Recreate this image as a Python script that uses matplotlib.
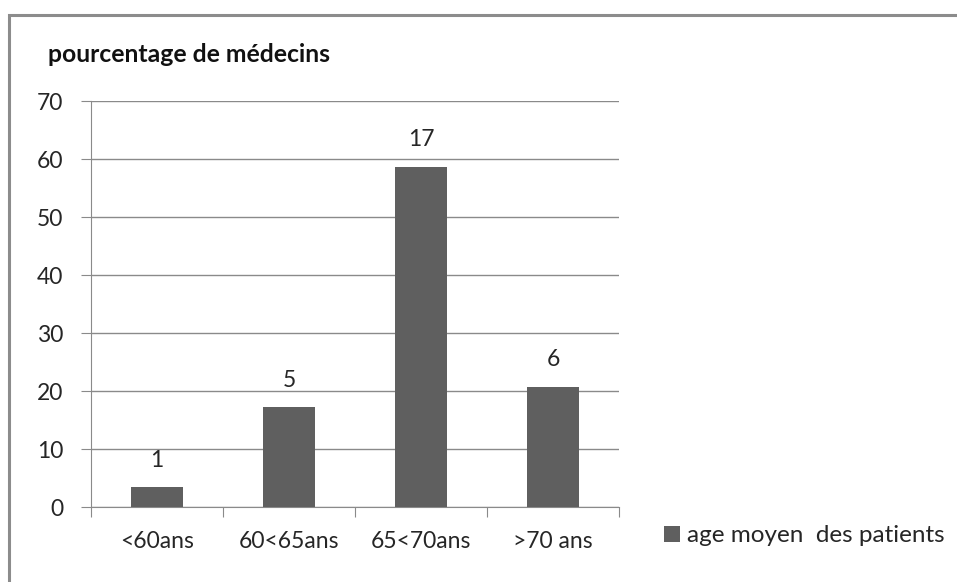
import matplotlib.pyplot as plt
from matplotlib.patches import Rectangle

plt.rcParams['font.family'] = ['Lato', 'DejaVu Sans']

categories = ['<60ans', '60<65ans', '65<70ans', '>70 ans']
counts = [1, 5, 17, 6]
percent = [3.4, 17.2, 58.6, 20.7]

bar_color = '#5f5f5f'
grid_color = '#8a8a8a'
fs = 16.5

fig = plt.figure(figsize=(9.57, 5.82), dpi=100)
W, H = 957, 582
ax = fig.add_axes([91 / W, 1 - 507 / H, 528 / W, 406 / H])

x = range(len(categories))
bars = ax.bar(x, percent, width=0.4, color=bar_color, label='age moyen  des patients', zorder=3)

ax.set_xlim(-0.5, len(categories) - 0.5)
ax.set_ylim(0, 70)
ax.set_yticks(range(0, 71, 10))
ax.yaxis.grid(True, color=grid_color, lw=1, zorder=0)

ax.set_xticks([i - 0.5 for i in range(len(categories) + 1)])
ax.set_xticklabels([])
ax.set_xticks(list(x), minor=True)
ax.set_xticklabels(categories, minor=True, fontsize=fs, color='#262626')
ax.tick_params(axis='x', which='major', length=7, color=grid_color, direction='out')
ax.tick_params(axis='x', which='minor', length=0, pad=17)
ax.tick_params(axis='y', length=7, color=grid_color, labelsize=fs, labelcolor='#262626', pad=13)

for side in ['top', 'right']:
    ax.spines[side].set_visible(False)
for side in ['left', 'bottom']:
    ax.spines[side].set_color(grid_color)

for b, c in zip(bars, counts):
    ax.annotate(str(c), (b.get_x() + b.get_width() / 2, b.get_height()),
                xytext=(0, 12), textcoords='offset points', ha='center', va='bottom',
                fontsize=fs, color='#262626')

fig.text(48 / W, 1 - 55 / H, 'pourcentage de médecins', fontsize=17.8, fontweight='bold',
         ha='left', va='center', color='#111111')

ax.legend(loc='center left', bbox_to_anchor=(664 / W, 1 - 536 / H), bbox_transform=fig.transFigure,
          frameon=False, fontsize=17.5, handlelength=0.65, handleheight=0.65, handletextpad=0.3,
          borderaxespad=0, borderpad=0, labelcolor='#262626')

fig.patches.append(Rectangle((9 / W, -0.05), 1.1, 1 - 15 / H + 0.05, transform=fig.transFigure,
                             fill=False, edgecolor='#8c8c8c', lw=2.2))

fig.savefig('out.png', dpi=100)
